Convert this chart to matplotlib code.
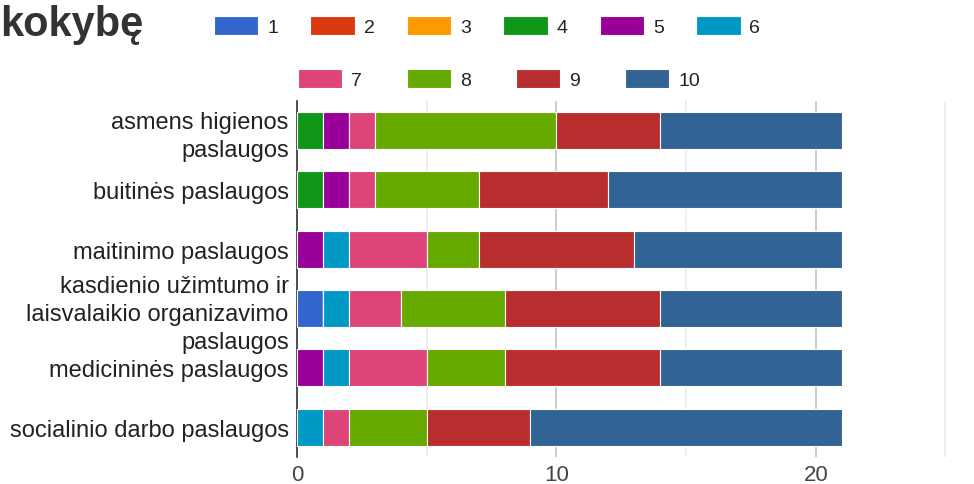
import matplotlib
matplotlib.use("Agg")
import matplotlib.pyplot as plt
import numpy as np

plt.rcParams["font.family"] = ["Liberation Sans", "DejaVu Sans"]

categories = [
    "asmens higienos\npaslaugos",
    "buitinės paslaugos",
    "maitinimo paslaugos",
    "kasdienio užimtumo ir\nlaisvalaikio organizavimo\npaslaugos",
    "medicininės paslaugos",
    "socialinio darbo paslaugos",
]

series_labels = ["1", "2", "3", "4", "5", "6", "7", "8", "9", "10"]

# counts per rating (rows = categories, in order above)
s1 = [0, 0, 0, 1, 0, 0]
s2 = [0, 0, 0, 0, 0, 0]
s3 = [0, 0, 0, 0, 0, 0]
s4 = [1, 1, 0, 0, 0, 0]
s5 = [1, 1, 1, 0, 1, 0]
s6 = [0, 0, 1, 1, 1, 1]
s7 = [1, 1, 3, 2, 3, 1]
s8 = [7, 4, 2, 4, 3, 3]
s9 = [4, 5, 6, 6, 6, 4]
s10 = [7, 9, 8, 7, 7, 12]

series = [s1, s2, s3, s4, s5, s6, s7, s8, s9, s10]

colors = ["#3366cc", "#dc3912", "#ff9900", "#109618", "#990099",
          "#0099c6", "#dd4477", "#66aa00", "#b82e2e", "#316395"]


def main():
    fig = plt.figure(figsize=(9.74, 4.85), dpi=100)
    ax = fig.add_axes([0.305, 0.056, 0.695, 0.734])

    y = np.arange(len(categories))
    left = np.zeros(len(categories))
    handles = []
    for vals, col, lab in zip(series, colors, series_labels):
        vals = np.array(vals, dtype=float)
        bars = ax.barh(y, vals, left=left, height=0.62, color=col,
                       edgecolor="white", linewidth=0.8, label=lab, zorder=3)
        handles.append(bars)
        left += vals

    ax.set_ylim(len(categories) - 0.5, -0.5)
    ax.set_xlim(0, 26.1)
    ax.set_yticks(y)
    ax.set_yticklabels(categories, fontsize=17, color="#222222",
                       linespacing=1.36)
    ax.set_xticks([0, 10, 20])
    ax.set_xticks([5, 15, 25], minor=True)
    ax.tick_params(axis="x", which="both", length=0, labelsize=16,
                   labelcolor="#444444", pad=5)
    ax.tick_params(axis="y", length=0, pad=6)
    ax.grid(axis="x", which="major", color="#c8c8c8", linewidth=1.3, zorder=0)
    ax.grid(axis="x", which="minor", color="#ebebeb", linewidth=1.2, zorder=0)
    for side in ["top", "right", "bottom"]:
        ax.spines[side].set_visible(False)
    ax.spines["left"].set_color("#333333")
    ax.spines["left"].set_linewidth(1.2)

    fig.text(0.0, 0.99, "kokybę", fontsize=30, fontweight="bold",
             color="#333333", ha="left", va="top")

    leg1 = fig.legend(handles=handles[:6], loc="center",
                      bbox_to_anchor=(0.5, 0.944), ncol=6, frameon=False,
                      fontsize=14, handlelength=2.3, handleheight=1.13,
                      handletextpad=0.45, columnspacing=1.65)
    for t in leg1.get_texts():
        t.set_color("#222222")
    leg2 = fig.legend(handles=handles[6:], loc="center",
                      bbox_to_anchor=(0.512, 0.835), ncol=4, frameon=False,
                      fontsize=14, handlelength=2.3, handleheight=1.13,
                      handletextpad=0.45, columnspacing=2.3)
    for t in leg2.get_texts():
        t.set_color("#222222")

    fig.savefig("out.png", dpi=100)
    plt.close(fig)


if __name__ == "__main__":
    main()
